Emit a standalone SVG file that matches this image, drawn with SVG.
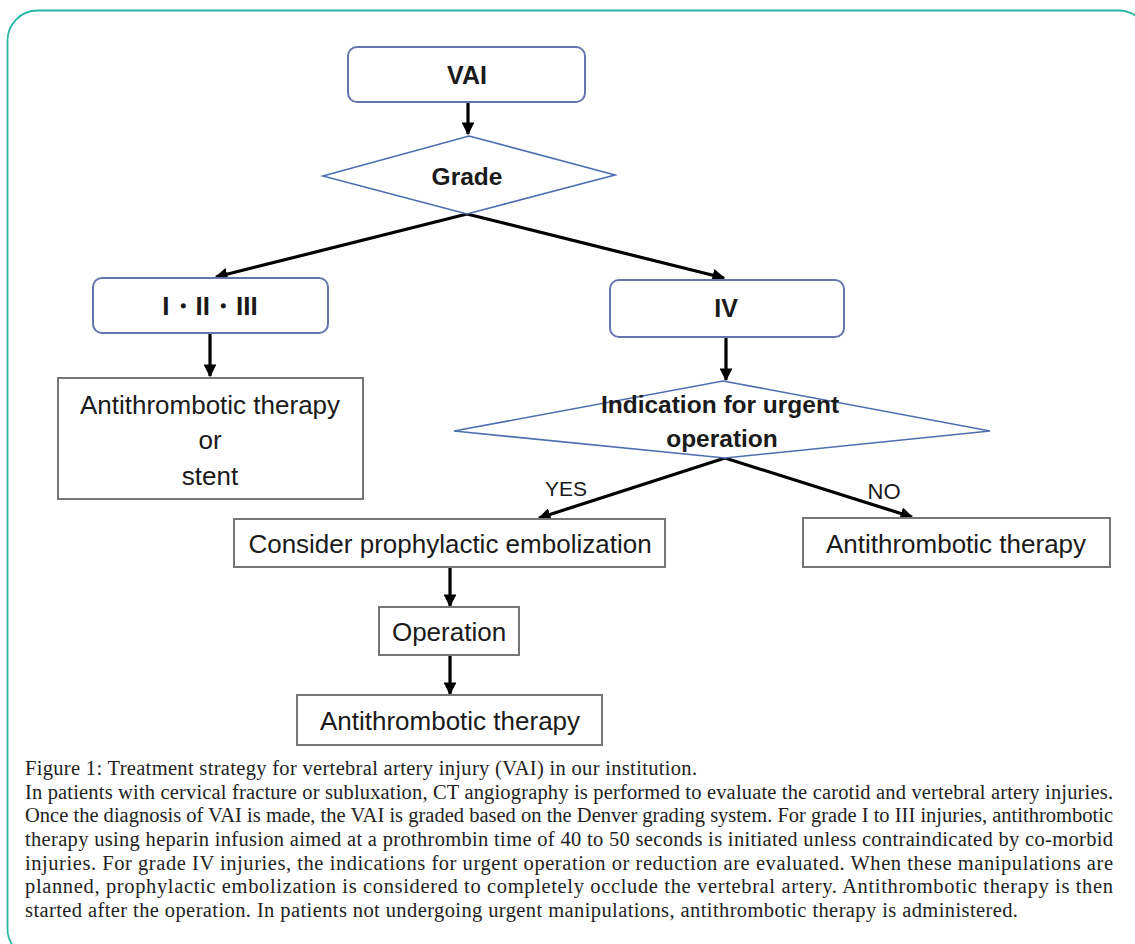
<svg xmlns="http://www.w3.org/2000/svg" width="1135" height="944" viewBox="0 0 1135 944">
<style>
.frame{fill:none;stroke:#2bb5a6;stroke-width:1.8}
.rbox{fill:#fff;stroke:#6676ad;stroke-width:2}
.dia{fill:#fff;stroke:#4d6fb0;stroke-width:1.6}
.box{fill:#fff;stroke:#757575;stroke-width:2}
.con{fill:none;stroke:#000;stroke-width:3.2}
.t{font-family:"Liberation Sans",Arial,sans-serif;font-size:26px;fill:#1a1a1a;text-anchor:middle}
.b{font-weight:bold}
.cap{font-family:"Liberation Serif","Times New Roman",serif;font-size:20.5px;fill:#222}
</style>
<defs>
<marker id="ah" viewBox="0 0 10 10" refX="9" refY="5" markerWidth="4" markerHeight="4" orient="auto" markerUnits="strokeWidth">
<path d="M0,0 L10,5 L0,10 z" fill="#000"/>
</marker>
</defs>
<rect width="1135" height="944" fill="#fff"/>
<rect class="frame" x="7.5" y="10.5" width="1141" height="948" rx="30" ry="30"/>

<g id="connectors">
<line class="con" x1="468" y1="103" x2="468" y2="134" marker-end="url(#ah)"/>
<line class="con" x1="467" y1="214" x2="216" y2="277" marker-end="url(#ah)"/>
<line class="con" x1="467" y1="214" x2="724" y2="278" marker-end="url(#ah)"/>
<line class="con" x1="210" y1="334" x2="210" y2="376" marker-end="url(#ah)"/>
<line class="con" x1="726" y1="338" x2="726" y2="380" marker-end="url(#ah)"/>
<line class="con" x1="725" y1="458" x2="539" y2="518" marker-end="url(#ah)"/>
<line class="con" x1="725" y1="458" x2="912" y2="517" marker-end="url(#ah)"/>
<line class="con" x1="450" y1="568" x2="450" y2="606" marker-end="url(#ah)"/>
<line class="con" x1="450" y1="656" x2="450" y2="694" marker-end="url(#ah)"/>
<text class="t" x="566" y="496" style="font-size:21px">YES</text>
<text class="t" x="884" y="499" style="font-size:22px">NO</text>
</g>

<g id="vai">
<rect class="rbox" x="348" y="47" width="237" height="55" rx="9"/>
<text class="t b" x="467" y="84" style="font-size:25px">VAI</text>
</g>
<g id="grade">
<polygon class="dia" points="469,136 615,175 467,214 323,176"/>
<text class="t b" x="467" y="185" style="font-size:24.5px">Grade</text>
</g>
<g id="g123">
<rect class="rbox" x="93" y="278" width="235" height="55" rx="9"/>
<text class="t b" x="210" y="315" style="font-size:26px">I・II・III</text>
</g>
<g id="g4">
<rect class="rbox" x="610" y="280" width="234" height="57" rx="9"/>
<text class="t b" x="726" y="317" style="font-size:25px">IV</text>
</g>
<g id="anti1">
<rect class="box" x="58" y="378" width="305" height="121"/>
<text class="t" x="210" y="414">Antithrombotic therapy</text>
<text class="t" x="210" y="449">or</text>
<text class="t" x="210" y="485">stent</text>
</g>
<g id="indication">
<polygon class="dia" points="723,381 990,431 725,458 454,431"/>
<text class="t b" x="720" y="413" style="font-size:24.5px">Indication for urgent</text>
<text class="t b" x="722" y="447" style="font-size:24.5px">operation</text>
</g>
<g id="consider">
<rect class="box" x="234" y="519" width="431" height="48"/>
<text class="t" x="450" y="553">Consider prophylactic embolization</text>
</g>
<g id="anti-no">
<rect class="box" x="803" y="518" width="307" height="49"/>
<text class="t" x="956" y="553">Antithrombotic therapy</text>
</g>
<g id="operation">
<rect class="box" x="379" y="607" width="140" height="48"/>
<text class="t" x="449" y="641">Operation</text>
</g>
<g id="anti2">
<rect class="box" x="297" y="695" width="305" height="50"/>
<text class="t" x="450" y="730">Antithrombotic therapy</text>
</g>

<g id="caption">
<text class="cap" x="25" y="775" textLength="672" lengthAdjust="spacing">Figure 1: Treatment strategy for vertebral artery injury (VAI) in our institution.</text>
<text class="cap" x="25" y="799" textLength="1088" lengthAdjust="spacing">In patients with cervical fracture or subluxation, CT angiography is performed to evaluate the carotid and vertebral artery injuries.</text>
<text class="cap" x="25" y="822" textLength="1088" lengthAdjust="spacing">Once the diagnosis of VAI is made, the VAI is graded based on the Denver grading system. For grade I to III injuries, antithrombotic</text>
<text class="cap" x="25" y="846" textLength="1088" lengthAdjust="spacing">therapy using heparin infusion aimed at a prothrombin time of 40 to 50 seconds is initiated unless contraindicated by co-morbid</text>
<text class="cap" x="25" y="870" textLength="1088" lengthAdjust="spacing">injuries. For grade IV injuries, the indications for urgent operation or reduction are evaluated. When these manipulations are</text>
<text class="cap" x="25" y="893" textLength="1088" lengthAdjust="spacing">planned, prophylactic embolization is considered to completely occlude the vertebral artery. Antithrombotic therapy is then</text>
<text class="cap" x="25" y="917" textLength="993" lengthAdjust="spacing">started after the operation. In patients not undergoing urgent manipulations, antithrombotic therapy is administered.</text>
</g>
</svg>
